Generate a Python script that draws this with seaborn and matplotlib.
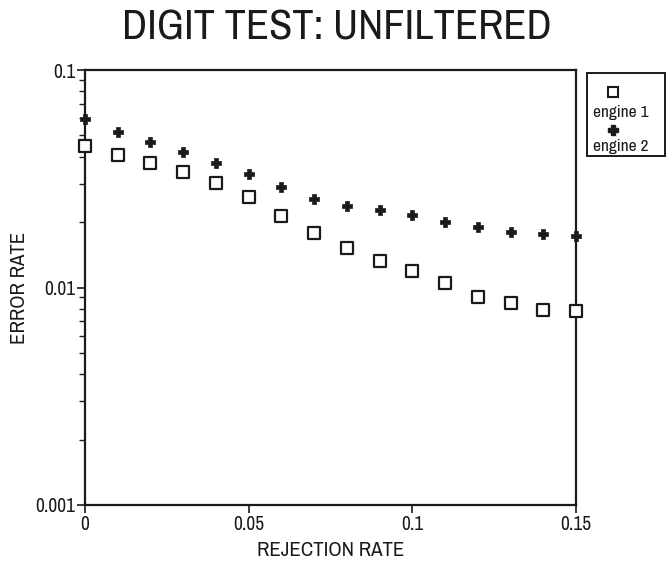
import matplotlib
matplotlib.use("Agg")
import matplotlib.pyplot as plt
from matplotlib.lines import Line2D
from matplotlib.patches import Rectangle
import numpy as np
import pandas as pd
import seaborn as sns

# Rejection rate (x) and error rates for the two engines
rejection_rate = [0.00, 0.01, 0.02, 0.03, 0.04, 0.05, 0.06, 0.07,
                  0.08, 0.09, 0.10, 0.11, 0.12, 0.13, 0.14, 0.15]
engine1_error = [0.0448, 0.0406, 0.0372, 0.0339, 0.0301, 0.0262, 0.0214, 0.0178,
                 0.0152, 0.0133, 0.0119, 0.01045, 0.00907, 0.00852, 0.00788, 0.00781]
engine2_error = [0.0593, 0.0520, 0.0466, 0.0420, 0.0375, 0.0334, 0.0290, 0.0255,
                 0.0237, 0.0226, 0.0216, 0.0201, 0.0190, 0.0180, 0.0177, 0.0173]
series_names = ["engine 1", "engine 2"]
x_ticks = [0, 0.05, 0.1, 0.15]
x_tick_labels = ["0", "0.05", "0.1", "0.15"]
y_ticks = [0.001, 0.01, 0.1]
y_tick_labels = ["0.001", "0.01", "0.1"]

INK = "#1a1a1a"

sns.set_theme(style="white")
plt.rcParams["font.family"] = ["Archivo Narrow", "Roboto Condensed", "DejaVu Sans"]

df = pd.DataFrame({
    "rejection": rejection_rate * 2,
    "error": engine1_error + engine2_error,
    "engine": [series_names[0]] * len(rejection_rate) + [series_names[1]] * len(rejection_rate),
})

fig = plt.figure(figsize=(6.67, 5.65), dpi=100)
ax = fig.add_axes([85 / 667, 1 - 505 / 565, (576 - 85) / 667, (505 - 70) / 565])

sns.scatterplot(data=df[df.engine == series_names[0]], x="rejection", y="error",
                marker="s", s=70, facecolor="white", edgecolor=INK,
                linewidth=1.6, ax=ax, legend=False, clip_on=False, zorder=3)
sns.scatterplot(data=df[df.engine == series_names[1]], x="rejection", y="error",
                marker="P", s=55, color=INK, edgecolor=INK,
                linewidth=0.5, ax=ax, legend=False, clip_on=False, zorder=3)

ax.set_yscale("log")
ax.set_xlim(0, 0.15)
ax.set_ylim(0.001, 0.1)
ax.set_xticks(x_ticks)
ax.set_xticklabels(x_tick_labels, fontsize=14)
ax.set_yticks(y_ticks)
ax.set_yticklabels(y_tick_labels, fontsize=14)
ax.yaxis.set_minor_locator(matplotlib.ticker.LogLocator(base=10, subs=np.arange(2, 10)))
ax.yaxis.set_minor_formatter(matplotlib.ticker.NullFormatter())
ax.tick_params(axis="both", which="major", direction="out", length=6, width=1.2,
               color=INK, labelcolor=INK, pad=1, left=True, bottom=True)
ax.tick_params(axis="y", which="minor", direction="out", length=4, width=1.0,
               color=INK, left=True)
for side in ["left", "bottom", "right", "top"]:
    ax.spines[side].set_color(INK)
    ax.spines[side].set_linewidth(1.6)

ax.set_xlabel("REJECTION RATE", fontsize=15, color=INK, fontweight="semibold")
ax.xaxis.set_label_coords(0.5, (505 - 551) / 435)
ax.xaxis.label.set_va("center")
ax.set_ylabel("ERROR RATE", fontsize=15, color=INK, fontweight="semibold")
ax.yaxis.set_label_coords((20 - 85) / 491, 0.5)
ax.yaxis.label.set_va("center")
fig.text((125 + 548) / 2 / 667, 1 - 27.5 / 565, "DIGIT TEST: UNFILTERED",
         ha="center", va="center", fontsize=30.5, color=INK, fontweight="medium")

# Legend box with each marker above its label
fx = lambda px: px / 667
fy = lambda py: 1 - py / 565
fig.patches.append(Rectangle((fx(587), fy(156)), fx(665) - fx(587), fy(73) - fy(156),
                             transform=fig.transFigure, fill=False,
                             edgecolor=INK, linewidth=1.4))
fig.lines.append(Line2D([fx(613)], [fy(92)], transform=fig.transFigure, marker="s",
                        markersize=7, markerfacecolor="white", markeredgecolor=INK,
                        markeredgewidth=1.5, linestyle="none"))
fig.text(fx(593), fy(112), series_names[0], ha="left", va="center", fontsize=12.5,
         color=INK, fontweight="bold")
fig.lines.append(Line2D([fx(613)], [fy(130)], transform=fig.transFigure, marker="P",
                        markersize=6.5, markerfacecolor=INK, markeredgecolor=INK,
                        linestyle="none"))
fig.text(fx(593), fy(147), series_names[1], ha="left", va="center", fontsize=12.5,
         color=INK, fontweight="bold")

fig.savefig("out.png", dpi=100, facecolor="white")
